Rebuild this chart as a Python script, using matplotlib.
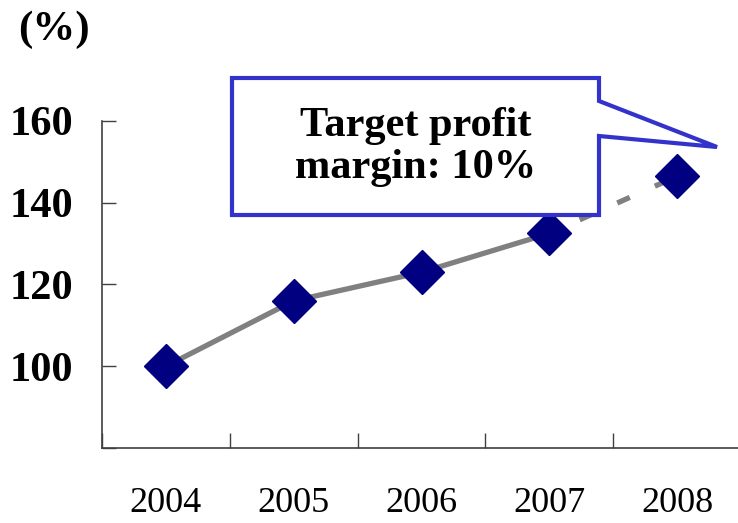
import matplotlib
matplotlib.use("Agg")
from matplotlib import pyplot as plt
from matplotlib.patches import Polygon

years = ["2004", "2005", "2006", "2007", "2008"]
values = [100, 116, 123, 132.5, 146.5]
y_ticks = [80, 100, 120, 140, 160]
y_labels = ["", "100", "120", "140", "160"]
callout_text = "Target profit\nmargin: 10%"

plt.rcParams['font.family'] = ['Liberation Serif', 'DejaVu Serif']

fig = plt.figure(figsize=(7.38, 5.23), dpi=100)
ax = fig.add_axes([102 / 738, 75 / 523, 636 / 738, 327 / 523])

x = list(range(len(years)))
line_color = '#808080'
marker_color = '#000080'

# actual values: solid line, forecast: dashed
ax.plot(x[:4], values[:4], color=line_color, lw=3.8, zorder=2, solid_capstyle='butt')
ax.plot(x[3:], values[3:], color=line_color, lw=3.8, zorder=2,
        linestyle=(1.5, (2.6, 5.2)), dash_capstyle='butt')
ax.plot(x, values, linestyle='none', marker='D', markersize=22,
        color=marker_color, zorder=3)

ax.set_xlim(-0.5, 4.476)
ax.set_ylim(80, 160)

ax.set_yticks(y_ticks)
ax.set_yticklabels(y_labels, fontsize=30.5, fontweight='bold')
ax.tick_params(axis='y', direction='in', length=10, width=1, pad=21, colors='#404040',
               labelcolor='black')

ax.set_xticks(x)
ax.set_xticklabels(years, fontsize=26)
ax.set_xticks([i + 0.5 for i in range(-1, 4)], minor=True)
ax.tick_params(axis='x', which='major', length=0, pad=28)
ax.tick_params(axis='x', which='minor', direction='in', length=11, width=1, colors='#404040')

for side in ['top', 'right']:
    ax.spines[side].set_visible(False)
for side in ['left', 'bottom']:
    ax.spines[side].set_color('#404040')
    ax.spines[side].set_linewidth(1.2)

# callout box with pointer (figure pixel coords)
W, H = 738, 523
pts = [(232, 78), (599, 78), (599, 101), (717, 147), (599, 136), (599, 215), (232, 215)]
pts = [(px / W, 1 - py / H) for px, py in pts]
callout = Polygon(pts, closed=True, transform=fig.transFigure, facecolor='white',
                  edgecolor='#3333CC', linewidth=3, zorder=5, joinstyle='miter')
fig.add_artist(callout)
fig.text(416 / W, 1 - 147 / H, callout_text, ha='center', va='center', fontsize=30.5,
         fontweight='bold', linespacing=1.15, zorder=6)

fig.text(54 / W, 1 - 30 / H, "(%)", ha='center', va='center', fontsize=31, fontweight='bold')

fig.savefig("out.png", dpi=100)
